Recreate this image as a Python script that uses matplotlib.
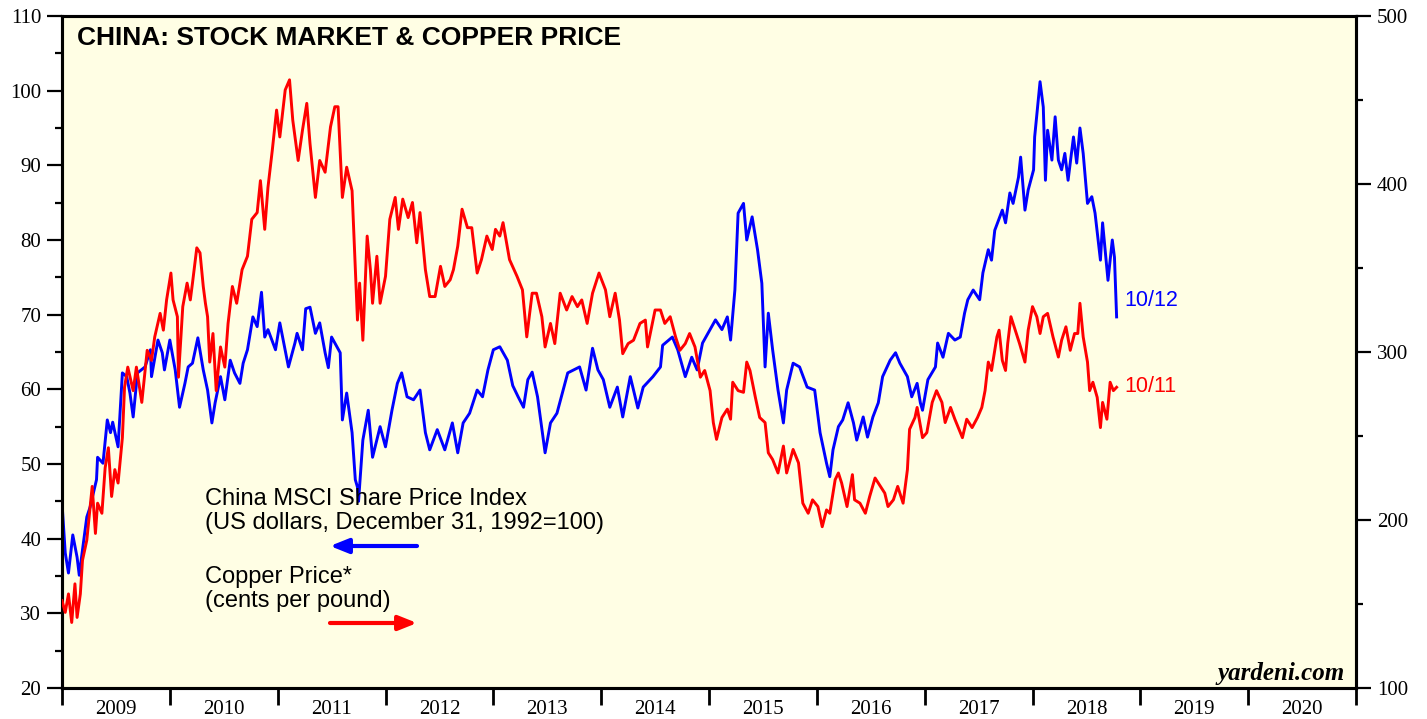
import matplotlib
matplotlib.use("Agg")
import matplotlib.pyplot as plt
from matplotlib.ticker import MultipleLocator, FixedLocator, NullFormatter, FixedFormatter

# ---------------- data (decimal years) ----------------
msci_t = [2009.00, 2009.03, 2009.06, 2009.10, 2009.14, 2009.16, 2009.19, 2009.23, 2009.26, 2009.32,
          2009.33, 2009.38, 2009.42, 2009.45, 2009.47, 2009.52, 2009.56, 2009.60, 2009.63, 2009.66,
          2009.70, 2009.77, 2009.82, 2009.83, 2009.89, 2009.93, 2009.95, 2010.00, 2010.05, 2010.09,
          2010.14, 2010.17, 2010.21, 2010.26, 2010.31, 2010.35, 2010.39, 2010.42, 2010.47, 2010.51,
          2010.56, 2010.60, 2010.65, 2010.68, 2010.72, 2010.77, 2010.81, 2010.85, 2010.88, 2010.91,
          2010.98, 2011.02, 2011.10, 2011.16, 2011.18, 2011.23, 2011.26, 2011.30, 2011.35, 2011.39,
          2011.44, 2011.47, 2011.50, 2011.55, 2011.58, 2011.60, 2011.64, 2011.69, 2011.72, 2011.74,
          2011.75, 2011.79, 2011.84, 2011.88, 2011.95, 2012.00, 2012.06, 2012.11, 2012.15, 2012.20,
          2012.26, 2012.32, 2012.37, 2012.41, 2012.48, 2012.55, 2012.62, 2012.67, 2012.72, 2012.78,
          2012.85, 2012.90, 2012.95, 2013.00, 2013.06, 2013.13, 2013.18, 2013.23, 2013.28, 2013.32,
          2013.36, 2013.41, 2013.48, 2013.53, 2013.59, 2013.64, 2013.69, 2013.80, 2013.86, 2013.92,
          2013.97, 2014.02, 2014.08, 2014.15, 2014.20, 2014.27, 2014.34, 2014.39, 2014.48, 2014.55,
          2014.57, 2014.66, 2014.71, 2014.78, 2014.84, 2014.89, 2014.94, 2014.99, 2015.06, 2015.12,
          2015.17, 2015.20, 2015.24, 2015.27, 2015.32, 2015.35, 2015.40, 2015.45, 2015.49, 2015.52,
          2015.55, 2015.59, 2015.64, 2015.69, 2015.72, 2015.78, 2015.84, 2015.91, 2015.98, 2016.03,
          2016.09, 2016.12, 2016.15, 2016.20, 2016.24, 2016.29, 2016.34, 2016.37, 2016.43, 2016.47,
          2016.52, 2016.57, 2016.61, 2016.68, 2016.73, 2016.77, 2016.84, 2016.88, 2016.93, 2016.96,
          2016.98, 2017.03, 2017.10, 2017.12, 2017.17, 2017.22, 2017.28, 2017.33, 2017.37, 2017.40,
          2017.45, 2017.51, 2017.54, 2017.59, 2017.62, 2017.65, 2017.72, 2017.75, 2017.79, 2017.82,
          2017.87, 2017.89, 2017.93, 2017.96, 2018.01, 2018.02, 2018.05, 2018.07, 2018.10, 2018.12,
          2018.14, 2018.18, 2018.21, 2018.24, 2018.27, 2018.30, 2018.33, 2018.38, 2018.41, 2018.44,
          2018.47, 2018.51, 2018.55, 2018.58, 2018.63, 2018.65, 2018.70, 2018.74, 2018.76, 2018.78]
msci_v = [44.8, 38.1, 35.4, 40.5, 37.5, 35.1, 38.5, 42.9, 44.2, 47.9,
          50.9, 50.1, 55.9, 54.2, 55.6, 52.3, 62.2, 61.7, 59.5, 56.3,
          62.2, 63.0, 65.3, 61.7, 66.6, 64.9, 62.6, 66.6, 62.6, 57.6,
          60.8, 63.0, 63.5, 66.9, 62.6, 59.9, 55.5, 58.2, 61.7, 58.6,
          63.9, 62.2, 60.8, 63.5, 65.3, 69.7, 68.4, 73.0, 67.0, 68.0,
          65.3, 68.9, 63.0, 66.2, 67.5, 65.3, 70.8, 71.0, 67.5, 68.9,
          64.9, 62.9, 67.0, 65.7, 64.9, 55.9, 59.5, 54.2, 47.9, 46.9,
          45.0, 53.2, 57.2, 50.9, 55.0, 52.3, 57.2, 60.8, 62.2, 59.0,
          58.6, 59.9, 54.2, 51.9, 54.6, 51.9, 55.5, 51.5, 55.5, 56.8,
          59.9, 59.0, 62.6, 65.3, 65.7, 63.9, 60.5, 59.0, 57.6, 61.3,
          62.3, 59.0, 51.5, 55.5, 56.8, 59.5, 62.2, 63.0, 59.9, 65.5,
          62.6, 61.3, 57.6, 60.3, 56.3, 61.7, 57.5, 60.3, 61.7, 63.0,
          65.9, 67.0, 65.3, 61.7, 64.3, 62.6, 66.2, 67.5, 69.3, 68.0,
          69.7, 66.6, 73.3, 83.6, 84.9, 80.0, 83.1, 78.7, 74.2, 63.0,
          70.2, 65.3, 59.9, 55.5, 59.9, 63.5, 63.0, 60.3, 59.9, 54.2,
          50.1, 48.3, 51.9, 55.0, 55.9, 58.2, 55.5, 53.2, 56.3, 53.6,
          56.3, 58.2, 61.7, 63.9, 64.9, 63.5, 61.7, 59.0, 60.8, 58.2,
          57.2, 61.3, 63.0, 66.2, 64.3, 67.5, 66.6, 67.0, 70.2, 72.0,
          73.3, 72.0, 75.6, 78.7, 77.3, 81.3, 84.0, 82.3, 86.3, 84.9,
          88.4, 91.1, 84.0, 86.7, 89.4, 93.8, 98.3, 101.2, 97.8, 88.0,
          94.7, 90.7, 96.5, 90.7, 89.4, 91.6, 88.0, 93.8, 90.3, 95.0,
          91.6, 84.9, 85.8, 83.6, 77.3, 82.3, 74.6, 80.0, 77.7, 69.7]

copper_t = [2009.00, 2009.03, 2009.06, 2009.09, 2009.12, 2009.14, 2009.17, 2009.19, 2009.23, 2009.28,
            2009.31, 2009.33, 2009.37, 2009.40, 2009.43, 2009.46, 2009.49, 2009.52, 2009.56, 2009.58,
            2009.61, 2009.66, 2009.69, 2009.74, 2009.79, 2009.83, 2009.86, 2009.91, 2009.94, 2009.97,
            2010.01, 2010.03, 2010.07, 2010.08, 2010.12, 2010.16, 2010.19, 2010.21, 2010.25, 2010.28,
            2010.31, 2010.33, 2010.35, 2010.37, 2010.40, 2010.43, 2010.47, 2010.51, 2010.54, 2010.58,
            2010.62, 2010.67, 2010.72, 2010.76, 2010.81, 2010.84, 2010.88, 2010.91, 2010.95, 2010.99,
            2011.02, 2011.07, 2011.11, 2011.14, 2011.19, 2011.23, 2011.27, 2011.30, 2011.35, 2011.39,
            2011.44, 2011.49, 2011.53, 2011.56, 2011.60, 2011.64, 2011.69, 2011.72, 2011.74, 2011.76,
            2011.79, 2011.83, 2011.86, 2011.88, 2011.92, 2011.95, 2012.00, 2012.04, 2012.09, 2012.12,
            2012.16, 2012.21, 2012.25, 2012.29, 2012.32, 2012.37, 2012.41, 2012.46, 2012.51, 2012.55,
            2012.60, 2012.63, 2012.67, 2012.71, 2012.76, 2012.80, 2012.85, 2012.89, 2012.94, 2012.99,
            2013.02, 2013.06, 2013.09, 2013.15, 2013.22, 2013.27, 2013.31, 2013.36, 2013.40, 2013.45,
            2013.48, 2013.53, 2013.57, 2013.62, 2013.68, 2013.73, 2013.78, 2013.82, 2013.87, 2013.92,
            2013.98, 2014.04, 2014.08, 2014.13, 2014.17, 2014.20, 2014.25, 2014.30, 2014.36, 2014.41,
            2014.43, 2014.50, 2014.55, 2014.59, 2014.64, 2014.69, 2014.73, 2014.78, 2014.82, 2014.87,
            2014.92, 2014.96, 2015.01, 2015.04, 2015.07, 2015.12, 2015.17, 2015.20, 2015.22, 2015.27,
            2015.32, 2015.35, 2015.38, 2015.43, 2015.47, 2015.52, 2015.55, 2015.59, 2015.64, 2015.69,
            2015.72, 2015.78, 2015.83, 2015.87, 2015.92, 2015.96, 2016.01, 2016.05, 2016.09, 2016.12,
            2016.17, 2016.20, 2016.23, 2016.28, 2016.33, 2016.35, 2016.40, 2016.45, 2016.49, 2016.54,
            2016.59, 2016.63, 2016.66, 2016.71, 2016.75, 2016.80, 2016.84, 2016.86, 2016.91, 2016.93,
            2016.98, 2017.02, 2017.07, 2017.11, 2017.16, 2017.19, 2017.24, 2017.28, 2017.35, 2017.39,
            2017.44, 2017.49, 2017.53, 2017.56, 2017.59, 2017.62, 2017.67, 2017.69, 2017.72, 2017.75,
            2017.77, 2017.80, 2017.84, 2017.88, 2017.93, 2017.96, 2018.00, 2018.04, 2018.07, 2018.10,
            2018.14, 2018.19, 2018.24, 2018.27, 2018.31, 2018.35, 2018.39, 2018.42, 2018.44, 2018.47,
            2018.51, 2018.53, 2018.56, 2018.60, 2018.63, 2018.65, 2018.69, 2018.72, 2018.75, 2018.78]
copper_v = [152, 145, 156, 139, 162, 142, 156, 176, 188, 220,
            192, 210, 204, 231, 243, 214, 230, 222, 249, 279,
            291, 277, 291, 270, 301, 295, 309, 323, 313, 331,
            347, 331, 321, 285, 327, 341, 331, 341, 362, 359,
            339, 329, 321, 294, 311, 277, 303, 291, 317, 339,
            329, 349, 357, 379, 383, 402, 373, 398, 420, 444,
            428, 456, 462, 438, 414, 432, 448, 424, 392, 414,
            407, 434, 446, 446, 392, 410, 396, 349, 319, 341,
            307, 369, 349, 329, 357, 329, 345, 379, 392, 373,
            391, 380, 389, 365, 383, 349, 333, 333, 351, 339,
            343, 349, 363, 385, 374, 374, 347, 355, 369, 361,
            373, 369, 377, 355, 345, 337, 309, 335, 335, 321,
            303, 317, 305, 335, 325, 333, 327, 331, 317, 335,
            347, 337, 321, 335, 319, 299, 305, 307, 317, 319,
            303, 325, 325, 317, 321, 309, 301, 305, 311, 303,
            285, 289, 277, 258, 248, 261, 266, 260, 282, 277,
            276, 294, 289, 273, 261, 258, 240, 236, 228, 244,
            228, 242, 234, 210, 204, 212, 208, 196, 206, 204,
            224, 228, 222, 208, 227, 212, 210, 204, 214, 225,
            220, 216, 208, 212, 220, 210, 230, 254, 261, 267,
            249, 252, 270, 277, 270, 258, 267, 260, 249, 260,
            255, 261, 267, 277, 294, 289, 309, 313, 295, 289,
            305, 321, 313, 305, 294, 313, 327, 321, 311, 321,
            323, 309, 297, 307, 315, 301, 311, 311, 329, 309,
            294, 277, 282, 273, 255, 270, 260, 282, 277, 279]

years = list(range(2009, 2021))
year_labels = [str(y) for y in years]
left_ticks = list(range(20, 111, 10))
right_ticks = list(range(100, 501, 100))

title = "CHINA: STOCK MARKET & COPPER PRICE"
msci_label = ["China MSCI Share Price Index", "(US dollars, December 31, 1992=100)"]
copper_label = ["Copper Price*", "(cents per pound)"]

# ---------------- figure ----------------
W, H = 1427, 719
fig = plt.figure(figsize=(W / 100, H / 100), dpi=100)
fig.patch.set_facecolor("white")
L, R, B, T = 62, 1356, 688, 16
ax = fig.add_axes([L / W, 1 - B / H, (R - L) / W, (B - T) / H])
ax.set_facecolor("#FFFEE4")
ax2 = ax.twinx()
ax2.patch.set_visible(False)

ax.plot(msci_t, msci_v, color="#0000FF", lw=2.1, solid_joinstyle="round", zorder=3)
ax2.plot(copper_t, copper_v, color="#FF0000", lw=2.1, solid_joinstyle="round", zorder=3)

ax.set_xlim(2009, 2021)
ax.set_ylim(20, 110)
ax2.set_ylim(100, 500)

serif = ["Liberation Serif", "DejaVu Serif"]
sans = ["Liberation Sans", "DejaVu Sans"]

# x axis: year boundaries as major ticks, labels centred in each year
ax.xaxis.set_major_locator(FixedLocator(list(range(2009, 2022))))
ax.xaxis.set_major_formatter(NullFormatter())
ax.xaxis.set_minor_locator(FixedLocator([y + 0.5 for y in years]))
ax.xaxis.set_minor_formatter(FixedFormatter(year_labels))
ax.tick_params(axis="x", which="major", direction="out", length=12, width=2.0, color="black")
ax.tick_params(axis="x", which="minor", length=0, pad=9)

ax.yaxis.set_major_locator(FixedLocator(left_ticks))
ax.yaxis.set_minor_locator(MultipleLocator(5))
ax.tick_params(axis="y", which="major", direction="out", length=11, width=1.6, pad=4)
ax.tick_params(axis="y", which="minor", direction="out", length=5, width=1.6)

ax2.yaxis.set_major_locator(FixedLocator(right_ticks))
ax2.yaxis.set_minor_locator(MultipleLocator(50))
ax2.tick_params(axis="y", which="major", direction="out", length=11, width=1.6, pad=4)
ax2.tick_params(axis="y", which="minor", direction="out", length=5, width=1.6)

for a in (ax, ax2):
    for lab in a.get_xticklabels(which="both") + a.get_yticklabels(which="both"):
        lab.set_family(serif)
        lab.set_fontsize(15)
    for s in a.spines.values():
        s.set_linewidth(2.2)
        s.set_color("black")

# ---------------- annotations ----------------
def fx(px):
    return px / W

def fy(py):
    return 1 - py / H

fig.text(fx(77), fy(45), title, family=sans, fontweight="bold", fontsize=19,
         va="baseline", ha="left", color="black")

fs = 17
fig.text(fx(205), fy(505), msci_label[0], family=sans, fontsize=fs, va="baseline", ha="left")
fig.text(fx(205), fy(529), msci_label[1], family=sans, fontsize=fs, va="baseline", ha="left")
fig.text(fx(205), fy(583), copper_label[0], family=sans, fontsize=fs, va="baseline", ha="left")
fig.text(fx(205), fy(607), copper_label[1], family=sans, fontsize=fs, va="baseline", ha="left")

arrow_style = "-|>,head_length=0.55,head_width=0.22"
ax.annotate("", xy=(330, H - 546), xytext=(417, H - 546), xycoords="figure pixels",
            textcoords="figure pixels",
            arrowprops=dict(arrowstyle=arrow_style, color="#0000FF", lw=3, mutation_scale=20,
                            shrinkA=0, shrinkB=0))
ax.annotate("", xy=(417, H - 623), xytext=(330, H - 623), xycoords="figure pixels",
            textcoords="figure pixels",
            arrowprops=dict(arrowstyle=arrow_style, color="#FF0000", lw=3, mutation_scale=20,
                            shrinkA=0, shrinkB=0))

fig.text(fx(1124), fy(300), "10/12", family=sans, fontsize=15.5, color="#0000FF", va="center", ha="left")
fig.text(fx(1124), fy(386), "10/11", family=sans, fontsize=15.5, color="#FF0000", va="center", ha="left")

fig.text(fx(1345), fy(680), "yardeni.com", family=serif, fontsize=18, fontstyle="italic",
         fontweight="bold", va="baseline", ha="right")

fig.savefig("out.png", dpi=100, facecolor="white")
